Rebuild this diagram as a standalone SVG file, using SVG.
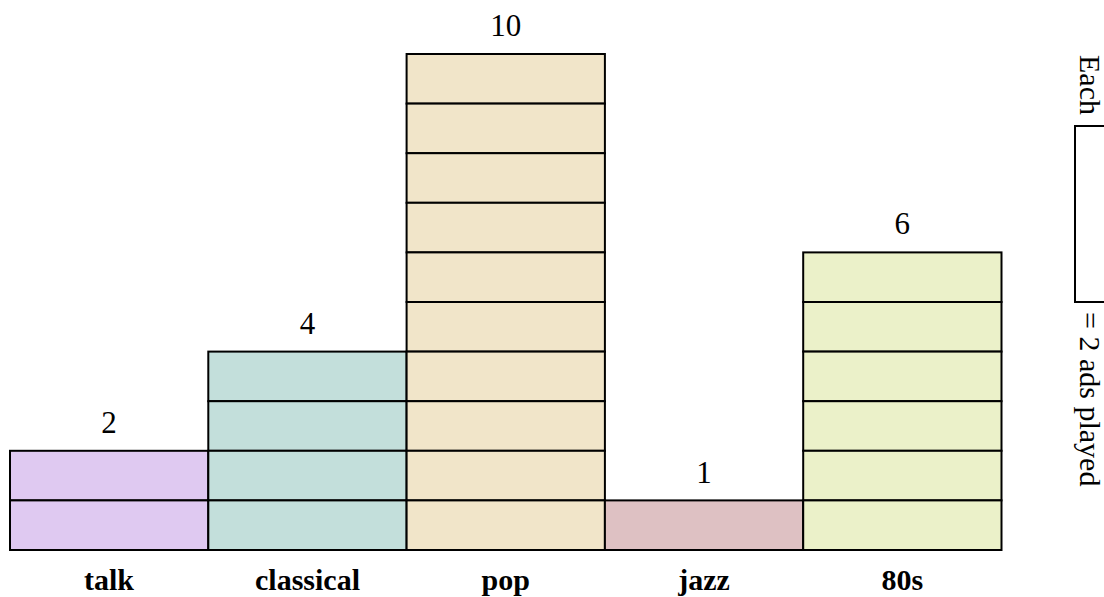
<svg xmlns="http://www.w3.org/2000/svg" width="1104" height="597" viewBox="0 0 1104 597">
<style>
.cell{stroke:#000;stroke-width:2}
.num{font-family:"Liberation Serif","Times New Roman",serif;font-size:31px;fill:#000;text-anchor:middle}
.cat{font-family:"Liberation Serif","Times New Roman",serif;font-size:30px;font-weight:bold;fill:#000;text-anchor:middle}
.leg{font-family:"Liberation Serif","Times New Roman",serif;font-size:30px;fill:#000}
.talk{fill:#dfc9f1}.classical{fill:#c3dfdb}.pop{fill:#f1e5c9}.jazz{fill:#dec1c3}.eighties{fill:#ebf1c9}
</style>
<rect width="1104" height="597" fill="#fff"/>
<g id="bar-talk">
<rect class="cell talk" x="10" y="450.8" width="198.3" height="49.6"/>
<rect class="cell talk" x="10" y="500.4" width="198.3" height="49.6"/>
<text class="num" x="109" y="433">2</text>
<text class="cat" x="109" y="590">talk</text>
</g>
<g id="bar-classical">
<rect class="cell classical" x="208.3" y="351.6" width="198.3" height="49.6"/>
<rect class="cell classical" x="208.3" y="401.2" width="198.3" height="49.6"/>
<rect class="cell classical" x="208.3" y="450.8" width="198.3" height="49.6"/>
<rect class="cell classical" x="208.3" y="500.4" width="198.3" height="49.6"/>
<text class="num" x="307.5" y="334">4</text>
<text class="cat" x="307.5" y="590">classical</text>
</g>
<g id="bar-pop">
<rect class="cell pop" x="406.6" y="54" width="198.3" height="49.6"/>
<rect class="cell pop" x="406.6" y="103.6" width="198.3" height="49.6"/>
<rect class="cell pop" x="406.6" y="153.2" width="198.3" height="49.6"/>
<rect class="cell pop" x="406.6" y="202.8" width="198.3" height="49.6"/>
<rect class="cell pop" x="406.6" y="252.4" width="198.3" height="49.6"/>
<rect class="cell pop" x="406.6" y="302" width="198.3" height="49.6"/>
<rect class="cell pop" x="406.6" y="351.6" width="198.3" height="49.6"/>
<rect class="cell pop" x="406.6" y="401.2" width="198.3" height="49.6"/>
<rect class="cell pop" x="406.6" y="450.8" width="198.3" height="49.6"/>
<rect class="cell pop" x="406.6" y="500.4" width="198.3" height="49.6"/>
<text class="num" x="505.8" y="36">10</text>
<text class="cat" x="505.8" y="590">pop</text>
</g>
<g id="bar-jazz">
<rect class="cell jazz" x="604.9" y="500.4" width="198.3" height="49.6"/>
<text class="num" x="704" y="483">1</text>
<text class="cat" x="704" y="590">jazz</text>
</g>
<g id="bar-80s">
<rect class="cell eighties" x="803.2" y="252.4" width="198.3" height="49.6"/>
<rect class="cell eighties" x="803.2" y="302" width="198.3" height="49.6"/>
<rect class="cell eighties" x="803.2" y="351.6" width="198.3" height="49.6"/>
<rect class="cell eighties" x="803.2" y="401.2" width="198.3" height="49.6"/>
<rect class="cell eighties" x="803.2" y="450.8" width="198.3" height="49.6"/>
<rect class="cell eighties" x="803.2" y="500.4" width="198.3" height="49.6"/>
<text class="num" x="902.3" y="234">6</text>
<text class="cat" x="902.3" y="590">80s</text>
</g>
<g id="legend">
<rect x="1075" y="126" width="60" height="176" fill="#fff" stroke="#000" stroke-width="2"/>
<text class="leg" transform="translate(1080,55) rotate(90)">Each</text>
<text class="leg" transform="translate(1080,312) rotate(90)">= 2 ads played</text>
</g>
<g id="connectors"></g>
</svg>
